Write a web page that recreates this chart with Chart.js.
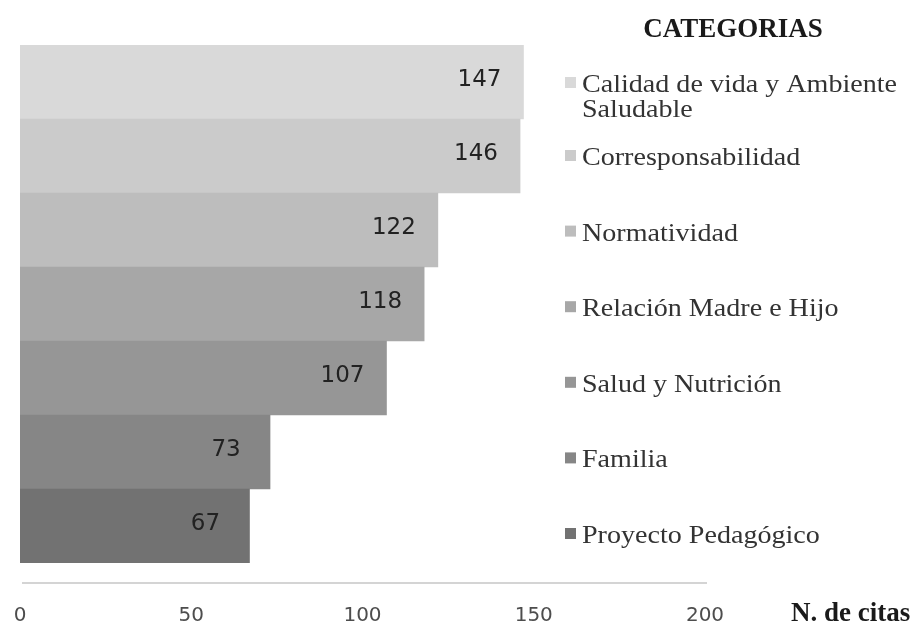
<!DOCTYPE html>
<html>
<head>
<meta charset="utf-8">
<script src="https://cdn.jsdelivr.net/npm/chart.js"></script>
<style>
  html, body { margin: 0; padding: 0; background: #fff; }
  #wrap { width: 917px; height: 625px; }
</style>
</head>
<body>
<div id="wrap"><canvas id="citasChart" width="917" height="625"></canvas></div>
<script>
// categories, top to bottom (legend lines split where the original wraps)
const categories = [
  ['Calidad de vida y Ambiente', 'Saludable'],
  ['Corresponsabilidad'],
  ['Normatividad'],
  ['Relación Madre e Hijo'],
  ['Salud y Nutrición'],
  ['Familia'],
  ['Proyecto Pedagógico']
];
const citas = [147, 146, 122, 118, 107, 73, 67];
const barColors = ['#d9d9d9', '#cbcbcb', '#bdbdbd', '#a7a7a7', '#969696', '#868686', '#727272'];
const xTicks = [0, 50, 100, 150, 200];
const legendTitle = 'CATEGORIAS';
const axisTitle = 'N. de citas';

const serif = '"Liberation Serif", "Times New Roman", serif';
const sans = '"DejaVu Sans", Verdana, sans-serif';

// value labels inside the end of each bar
const barLabels = {
  id: 'barLabels',
  afterDatasetsDraw(chart) {
    const ctx = chart.ctx;
    const meta = chart.getDatasetMeta(0);
    ctx.save();
    ctx.font = '23px ' + sans;
    ctx.fillStyle = '#222';
    ctx.textAlign = 'center';
    ctx.textBaseline = 'middle';
    meta.data.forEach((bar, i) => {
      ctx.fillText(String(citas[i]), bar.x - 44, bar.y - 2);
    });
    ctx.restore();
  }
};

// detached axis line, legend and axis title
const extras = {
  id: 'extras',
  afterDraw(chart) {
    const ctx = chart.ctx;
    const x = chart.scales.x;
    const area = chart.chartArea;
    ctx.save();

    // axis line sits a little below the bars
    ctx.strokeStyle = '#d4d4d4';
    ctx.lineWidth = 2;
    ctx.beginPath();
    ctx.moveTo(x.getPixelForValue(0) + 2, area.bottom + 20);
    ctx.lineTo(x.getPixelForValue(200) + 2, area.bottom + 20);
    ctx.stroke();

    // axis title
    ctx.fillStyle = '#1a1a1a';
    ctx.font = 'bold 27px ' + serif;
    ctx.textAlign = 'left';
    ctx.textBaseline = 'alphabetic';
    ctx.fillText(axisTitle, 791, 621);

    // legend title
    ctx.font = 'bold 27px ' + serif;
    ctx.textAlign = 'center';
    ctx.fillText(legendTitle, 733, 37);

    // legend entries
    ctx.font = '26px ' + serif;
    ctx.textAlign = 'left';
    categories.forEach((lines, i) => {
      const base = i === 0 ? 92 : 165 + (i - 1) * 75.6;
      ctx.fillStyle = barColors[i];
      ctx.fillRect(565, base - 15, 11, 11);
      ctx.fillStyle = '#333';
      lines.forEach((ln, k) => {
        ctx.save();
        ctx.translate(582, base + k * 25);
        ctx.scale(1.08, 1);
        ctx.fillText(ln, 0, 0);
        ctx.restore();
      });
    });
    ctx.restore();
  }
};

new Chart(document.getElementById('citasChart'), {
  type: 'bar',
  data: {
    labels: categories.map(l => l.join(' ')),
    datasets: [{
      data: citas,
      backgroundColor: barColors,
      borderWidth: 0,
      categoryPercentage: 1,
      barPercentage: 1
    }]
  },
  options: {
    indexAxis: 'y',
    responsive: false,
    animation: false,
    layout: { padding: { left: 20, right: 212, top: 45, bottom: 1 } },
    plugins: {
      legend: { display: false },
      tooltip: { enabled: false }
    },
    scales: {
      x: {
        min: 0,
        max: 200,
        afterBuildTicks: axis => { axis.ticks = xTicks.map(v => ({ value: v })); },
        afterFit: axis => {
          axis.height = 61;
          axis.paddingLeft = 0;
          axis.paddingRight = 0;
        },
        grid: { display: false, drawTicks: false },
        border: { display: false },
        ticks: {
          color: '#4d4d4d',
          padding: 43,
          maxRotation: 0,
          font: { family: sans, size: 20, lineHeight: 1 }
        }
      },
      y: {
        display: false,
        grid: { display: false }
      }
    }
  },
  plugins: [barLabels, extras]
});
</script>
</body>
</html>
